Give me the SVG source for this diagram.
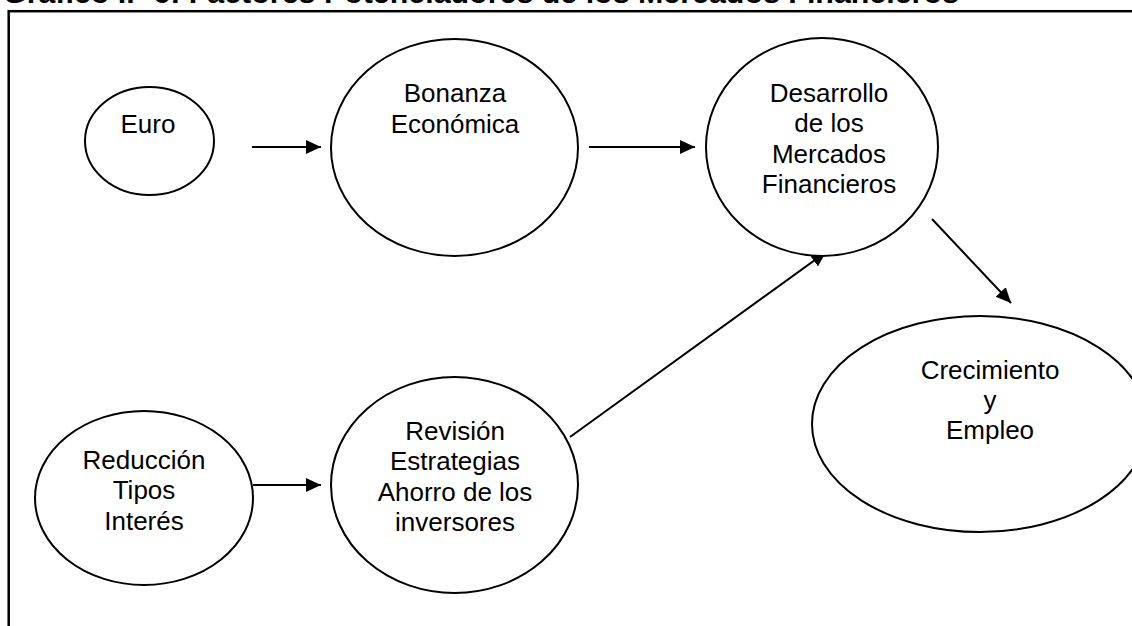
<svg xmlns="http://www.w3.org/2000/svg" width="1132" height="626" viewBox="0 0 1132 626">
  <style>
    .node ellipse { fill: #ffffff; stroke: #000000; stroke-width: 2; }
    .node text { font-family: "Liberation Sans", Arial, sans-serif; font-size: 26px; fill: #000000; text-anchor: middle; }
    .conn line { stroke: #000000; stroke-width: 2; marker-end: url(#arrow); }
    .title { font-family: "Liberation Sans", Arial, sans-serif; font-size: 30.4px; font-weight: bold; fill: #000000; }
  </style>
  <defs>
    <marker id="arrow" markerUnits="userSpaceOnUse" markerWidth="16" markerHeight="16" viewBox="0 0 16 16" refX="15" refY="8" orient="auto">
      <path d="M0,1 L15,8 L0,15 Z" fill="#000000"/>
    </marker>
  </defs>
  <rect width="1132" height="626" fill="#ffffff"/>
  <text class="title" x="3" y="3">Gráfico I.- 6: Factores Potenciadores de los Mercados Financieros</text>
  <rect x="8.7" y="11.2" width="1200" height="700" fill="none" stroke="#000000" stroke-width="2.5"/>

  <g id="connectors" class="conn">
    <line x1="252" y1="147" x2="321" y2="147"/>
    <line x1="589" y1="147" x2="695" y2="147"/>
    <line x1="570" y1="437" x2="826" y2="252"/>
    <line x1="932" y1="219" x2="1011" y2="303"/>
    <line x1="253" y1="485" x2="321" y2="485"/>
  </g>

  <g id="node-euro" class="node">
    <ellipse cx="149.5" cy="141" rx="64.5" ry="54"/>
    <text x="148" y="133">Euro</text>
  </g>
  <g id="node-bonanza" class="node">
    <ellipse cx="454.5" cy="147.5" rx="123.5" ry="108.5"/>
    <text x="455" y="102">Bonanza</text>
    <text x="455" y="133">Económica</text>
  </g>
  <g id="node-desarrollo" class="node">
    <ellipse cx="822" cy="147" rx="116" ry="109"/>
    <text x="829" y="102">Desarrollo</text>
    <text x="829" y="132">de los</text>
    <text x="829" y="163">Mercados</text>
    <text x="829" y="193">Financieros</text>
  </g>
  <g id="node-crecimiento" class="node">
    <ellipse cx="980" cy="424" rx="168" ry="108"/>
    <text x="990" y="379">Crecimiento</text>
    <text x="990" y="409">y</text>
    <text x="990" y="439">Empleo</text>
  </g>
  <g id="node-reduccion" class="node">
    <ellipse cx="144" cy="498" rx="109" ry="87"/>
    <text x="144" y="469">Reducción</text>
    <text x="144" y="499">Tipos</text>
    <text x="144" y="530">Interés</text>
  </g>
  <g id="node-revision" class="node">
    <ellipse cx="454.5" cy="485" rx="123.5" ry="108"/>
    <text x="455" y="440">Revisión</text>
    <text x="455" y="470">Estrategias</text>
    <text x="455" y="501">Ahorro de los</text>
    <text x="455" y="531">inversores</text>
  </g>
</svg>
